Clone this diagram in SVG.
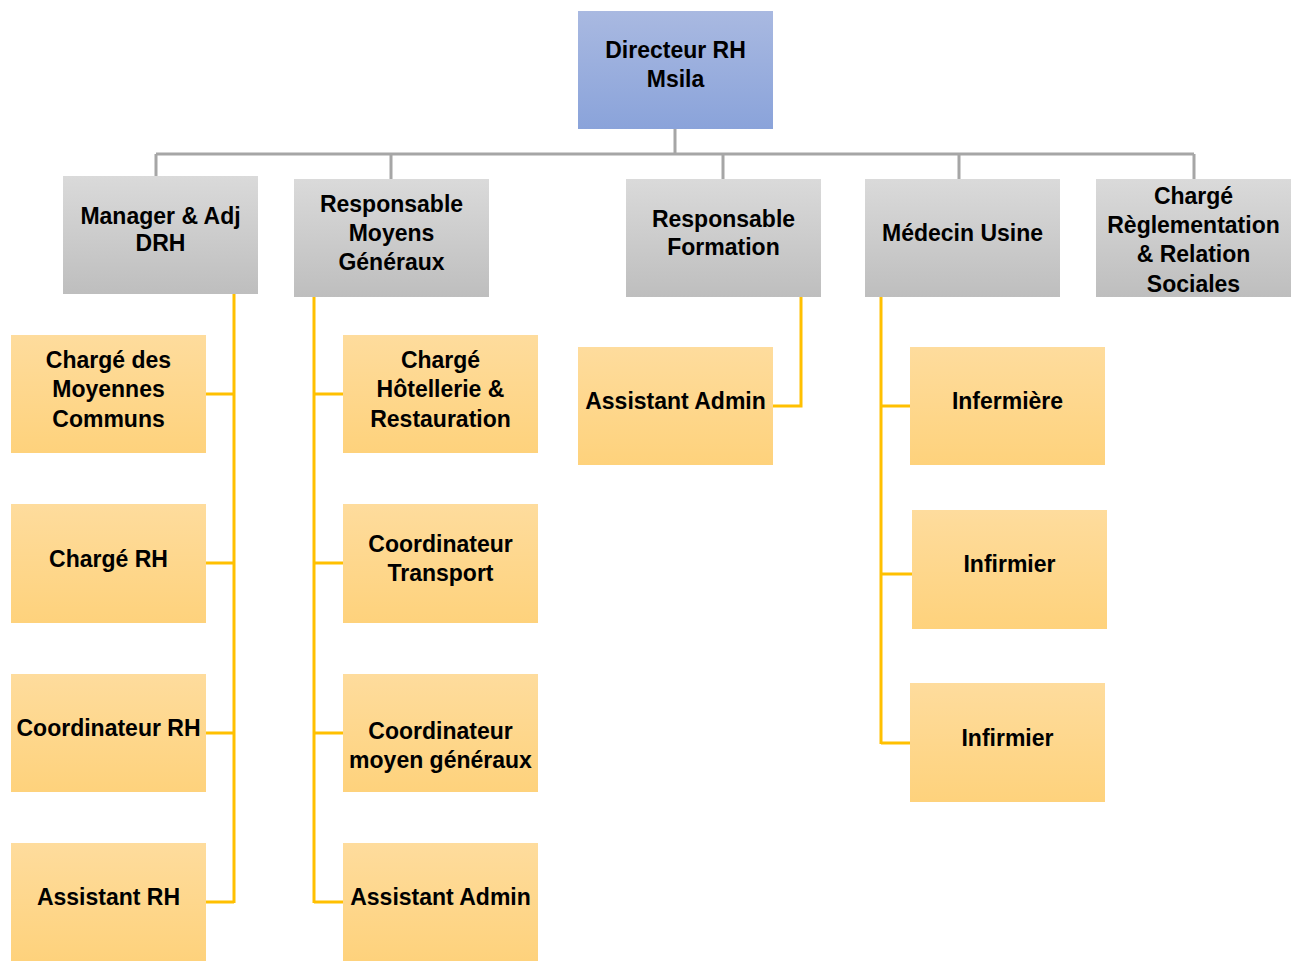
<svg xmlns="http://www.w3.org/2000/svg" width="1291" height="961" viewBox="0 0 1291 961">
<defs>
<linearGradient id="gBlue" x1="0" y1="0" x2="0" y2="1"><stop offset="0" stop-color="#a9b9e1"/><stop offset="1" stop-color="#8aa3da"/></linearGradient>
<linearGradient id="gGray" x1="0" y1="0" x2="0" y2="1"><stop offset="0" stop-color="#dadada"/><stop offset="1" stop-color="#bebebe"/></linearGradient>
<linearGradient id="gOrange" x1="0" y1="0" x2="0" y2="1"><stop offset="0" stop-color="#fedc9d"/><stop offset="1" stop-color="#fed27c"/></linearGradient>
</defs>
<style>
text{font-family:"Liberation Sans",Arial,sans-serif;font-weight:bold;font-size:23px;fill:#000;text-anchor:middle}
.gray{fill:none;stroke:#a6a6a6;stroke-width:3}
.yel{fill:none;stroke:#ffc000;stroke-width:3}
.b{fill:url(#gBlue)}
.g{fill:url(#gGray)}
.o{fill:url(#gOrange)}
</style>
<g id="connectors">
<path class="gray" d="M675,129V154M156,154H1194M156,154V176M391,154V179M723,154V179M959,154V179M1194,154V179"/>
<path class="yel" d="M234,294V903M206,394H234M206,563H234M206,733H234M206,902H234"/>
<path class="yel" d="M314,297V903M314,394H343M314,563H343M314,733H343M314,902H343"/>
<path class="yel" d="M801,297V406H773"/>
<path class="yel" d="M881,297V744M881,406H910M881,574H912M881,743H910"/>
</g>
<g id="directeur"><rect class="b" x="578" y="11" width="195" height="118"/><text x="675.5" y="58">Directeur RH</text><text x="675.5" y="87">Msila</text></g>
<g id="manager"><rect class="g" x="63" y="176" width="195" height="118"/><text x="160.5" y="224">Manager &amp; Adj</text><text x="160.5" y="251">DRH</text></g>
<g id="resp-moyens"><rect class="g" x="294" y="179" width="195" height="118"/><text x="391.5" y="212">Responsable</text><text x="391.5" y="241">Moyens</text><text x="391.5" y="270">Généraux</text></g>
<g id="resp-formation"><rect class="g" x="626" y="179" width="195" height="118"/><text x="723.5" y="227">Responsable</text><text x="723.5" y="255">Formation</text></g>
<g id="medecin"><rect class="g" x="865" y="179" width="195" height="118"/><text x="962.5" y="241">Médecin Usine</text></g>
<g id="charge-reglementation"><rect class="g" x="1096" y="179" width="195" height="118"/><text x="1193.5" y="204">Chargé</text><text x="1193.5" y="233">Règlementation</text><text x="1193.5" y="262">&amp; Relation</text><text x="1193.5" y="292">Sociales</text></g>
<g id="charge-moyennes"><rect class="o" x="11" y="335" width="195" height="118"/><text x="108.5" y="368">Chargé des</text><text x="108.5" y="397">Moyennes</text><text x="108.5" y="427">Communs</text></g>
<g id="charge-rh"><rect class="o" x="11" y="504" width="195" height="119"/><text x="108.5" y="567">Chargé RH</text></g>
<g id="coord-rh"><rect class="o" x="11" y="674" width="195" height="118"/><text x="108.5" y="736">Coordinateur RH</text></g>
<g id="assistant-rh"><rect class="o" x="11" y="843" width="195" height="118"/><text x="108.5" y="905">Assistant RH</text></g>
<g id="charge-hotellerie"><rect class="o" x="343" y="335" width="195" height="118"/><text x="440.5" y="368">Chargé</text><text x="440.5" y="397">Hôtellerie &amp;</text><text x="440.5" y="427">Restauration</text></g>
<g id="coord-transport"><rect class="o" x="343" y="504" width="195" height="119"/><text x="440.5" y="552">Coordinateur</text><text x="440.5" y="581">Transport</text></g>
<g id="coord-moyen"><rect class="o" x="343" y="674" width="195" height="118"/><text x="440.5" y="739">Coordinateur</text><text x="440.5" y="768">moyen généraux</text></g>
<g id="assistant-admin-1"><rect class="o" x="343" y="843" width="195" height="118"/><text x="440.5" y="905">Assistant Admin</text></g>
<g id="assistant-admin-2"><rect class="o" x="578" y="347" width="195" height="118"/><text x="675.5" y="409">Assistant Admin</text></g>
<g id="infermiere"><rect class="o" x="910" y="347" width="195" height="118"/><text x="1007.5" y="409">Infermière</text></g>
<g id="infirmier-1"><rect class="o" x="912" y="510" width="195" height="119"/><text x="1009.5" y="572">Infirmier</text></g>
<g id="infirmier-2"><rect class="o" x="910" y="683" width="195" height="119"/><text x="1007.5" y="746">Infirmier</text></g>
</svg>
